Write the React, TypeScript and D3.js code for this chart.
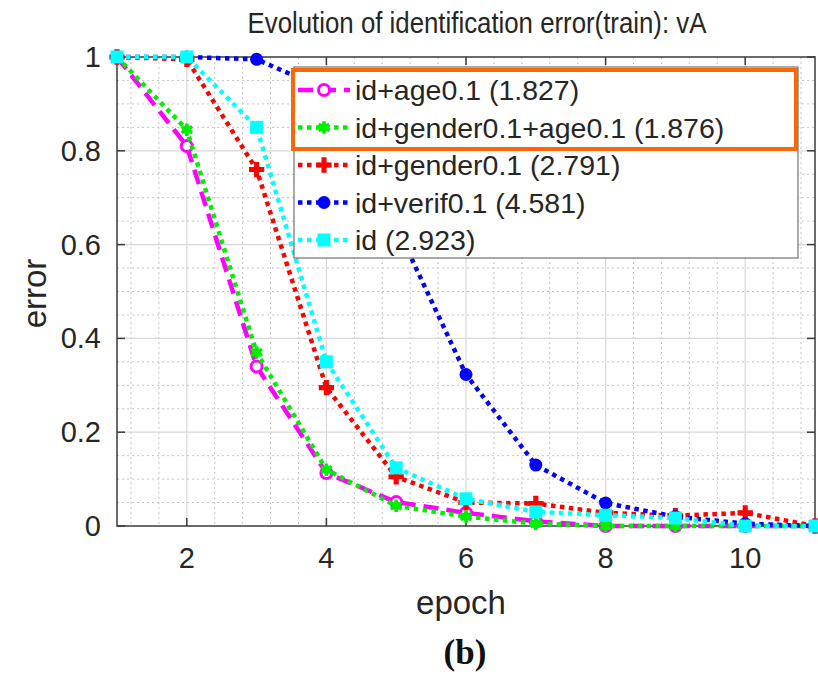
import React from "react";
import * as d3 from "d3";

const epochs = [1, 2, 3, 4, 5, 6, 7, 8, 9, 10, 11];
const idAge = [1, 0.81, 0.34, 0.113, 0.051, 0.028, 0.01, 0, 0, 0, 0];
const idGenderAge = [1, 0.845, 0.37, 0.12, 0.043, 0.02, 0.005, 0, 0, 0, 0];
const idGender = [1, 0.995, 0.76, 0.295, 0.105, 0.05, 0.048, 0.028, 0.022, 0.028, 0];
const idVerif = [1, 1, 0.995, 0.93, 0.64, 0.323, 0.13, 0.049, 0.02, 0.005, 0];
const idOnly = [1, 1, 0.85, 0.35, 0.124, 0.058, 0.03, 0.023, 0.017, 0, 0];

const seriesNames = [
  "id+age0.1 (1.827)",
  "id+gender0.1+age0.1 (1.876)",
  "id+gender0.1 (2.791)",
  "id+verif0.1 (4.581)",
  "id (2.923)",
];
const xTicks = [2, 4, 6, 8, 10];
const yTicks = [0, 0.2, 0.4, 0.6, 0.8, 1];

const title = "Evolution of identification error(train): vA";

type Series = {
  name: string;
  values: number[];
  color: string;
  dash: string;
  marker: string;
};

const series: Series[] = [
  { name: seriesNames[0], values: idAge, color: "#ff00ff", dash: "15,8", marker: "circleOpen" },
  { name: seriesNames[1], values: idGenderAge, color: "#00ee00", dash: "4.5,4.5", marker: "star" },
  { name: seriesNames[2], values: idGender, color: "#ff0000", dash: "4.5,4.5", marker: "plus" },
  { name: seriesNames[3], values: idVerif, color: "#0000ff", dash: "4.5,4.5", marker: "circle" },
  { name: seriesNames[4], values: idOnly, color: "#00ffff", dash: "4.5,4.5", marker: "square" },
];

const W = 818;
const H = 674;
const M = { left: 117, right: 815, top: 57, bottom: 526 };

const x = d3.scaleLinear().domain([1, 11]).range([M.left, M.right]);
const y = d3.scaleLinear().domain([0, 1]).range([M.bottom, M.top]);

const FONT = "'Liberation Sans', Arial, Helvetica, sans-serif";
const TXT = "#262626";

function Marker({ kind, color, cx, cy }: { kind: string; color: string; cx: number; cy: number }) {
  if (kind === "circleOpen")
    return <circle cx={cx} cy={cy} r={5.5} fill="white" stroke={color} strokeWidth={3} />;
  if (kind === "circle") return <circle cx={cx} cy={cy} r={6.5} fill={color} />;
  if (kind === "square")
    return <rect x={cx - 6.5} y={cy - 6.5} width={13} height={13} fill={color} />;
  if (kind === "plus") {
    const p = d3.symbol().type(d3.symbolCross).size(130)();
    return <path d={p || ""} transform={`translate(${cx},${cy})`} fill={color} />;
  }
  const p = d3.symbol().type(d3.symbolAsterisk).size(110)();
  return (
    <g transform={`translate(${cx},${cy})`}>
      <circle r={4.5} fill={color} />
      <path d={p || ""} fill="none" stroke={color} strokeWidth={3.5} />
    </g>
  );
}

export default function App() {
  const line = d3
    .line<number>()
    .x((_, i) => x(epochs[i]))
    .y((d) => y(d));

  const minorX = d3.range(1.2, 11, 0.4).filter((v) => Math.abs(v / 2 - Math.round(v / 2)) > 0.01);
  const minorY = d3.range(0.05, 1, 0.05).filter((v) => Math.abs(v / 0.2 - Math.round(v / 0.2)) > 0.01);

  const legX = 294;
  const legY = 67;
  const legW = 504;
  const legH = 191;
  const rowH = 37.5;

  return (
    <div style={{ position: "absolute", left: 0, top: 0 }}>
      <svg width={W} height={H} style={{ display: "block", background: "white" }}>
        <rect x={0} y={0} width={W} height={H} fill="white" />
        <g stroke="#c4c4c4" strokeWidth={1} strokeDasharray="2,3">
          {minorX.map((v) => (
            <line key={"mx" + v} x1={x(v)} x2={x(v)} y1={M.top} y2={M.bottom} />
          ))}
          {minorY.map((v) => (
            <line key={"my" + v} x1={M.left} x2={M.right} y1={y(v)} y2={y(v)} />
          ))}
        </g>
        <g stroke="#d8d8d8" strokeWidth={1.2}>
          {xTicks.map((v) => (
            <line key={"gx" + v} x1={x(v)} x2={x(v)} y1={M.top} y2={M.bottom} />
          ))}
          {yTicks.slice(1, -1).map((v) => (
            <line key={"gy" + v} x1={M.left} x2={M.right} y1={y(v)} y2={y(v)} />
          ))}
        </g>
        <rect
          x={M.left}
          y={M.top}
          width={M.right - M.left}
          height={M.bottom - M.top}
          fill="none"
          stroke="#3a3a3a"
          strokeWidth={1.5}
        />
        <g stroke="#3a3a3a" strokeWidth={1.5}>
          {xTicks.map((v) => (
            <g key={"tx" + v}>
              <line x1={x(v)} x2={x(v)} y1={M.bottom} y2={M.bottom - 8} />
              <line x1={x(v)} x2={x(v)} y1={M.top} y2={M.top + 8} />
            </g>
          ))}
          {yTicks.map((v) => (
            <g key={"ty" + v}>
              <line x1={M.left} x2={M.left + 8} y1={y(v)} y2={y(v)} />
              <line x1={M.right} x2={M.right - 8} y1={y(v)} y2={y(v)} />
            </g>
          ))}
        </g>
        <g fontFamily={FONT} fontSize={29} fill={TXT}>
          {xTicks.map((v) => (
            <text key={"lx" + v} x={x(v)} y={568} textAnchor="middle">
              {v}
            </text>
          ))}
          {yTicks.map((v) => (
            <text key={"ly" + v} x={101} y={y(v) + 10} textAnchor="end">
              {v === 0 || v === 1 ? String(v) : v.toFixed(1)}
            </text>
          ))}
        </g>
        <text x={461} y={614} textAnchor="middle" fontFamily={FONT} fontSize={33} fill={TXT}>
          epoch
        </text>
        <text
          transform={`translate(46,${(M.top + M.bottom) / 2 + 2}) rotate(-90)`}
          textAnchor="middle"
          fontFamily={FONT}
          fontSize={33}
          fill={TXT}
        >
          error
        </text>
        <text
          transform="translate(477,33) scale(0.89,1)"
          textAnchor="middle"
          fontFamily={FONT}
          fontSize={29}
          fill={TXT}
        >
          {title}
        </text>
        {series.map((s) => (
          <g key={s.name}>
            <path
              d={line(s.values) || ""}
              fill="none"
              stroke={s.color}
              strokeWidth={4.5}
              strokeDasharray={s.dash}
            />
            {s.values.map((v, i) => (
              <Marker key={i} kind={s.marker} color={s.color} cx={x(epochs[i])} cy={y(v)} />
            ))}
          </g>
        ))}
        <rect x={legX} y={legY} width={legW} height={legH} fill="white" stroke="#555" strokeWidth={1} />
        {series.map((s, i) => {
          const cy = legY + 23 + i * rowH;
          return (
            <g key={"leg" + s.name}>
              <line
                x1={legX + 4}
                x2={legX + 56}
                y1={cy}
                y2={cy}
                stroke={s.color}
                strokeWidth={4.5}
                strokeDasharray={s.dash}
              />
              <Marker kind={s.marker} color={s.color} cx={legX + 30} cy={cy} />
              <text x={legX + 61} y={cy + 10} fontFamily={FONT} fontSize={28.5} fill={TXT}>
                {s.name}
              </text>
            </g>
          );
        })}
        <rect x={293} y={70} width={503} height={79} fill="none" stroke="#ff6600" strokeWidth={4} />
        <text
          x={465}
          y={664}
          textAnchor="middle"
          fontFamily="'Liberation Serif', 'Times New Roman', serif"
          fontWeight="bold"
          fontSize={35}
          fill="#111"
        >
          (b)
        </text>
      </svg>
    </div>
  );
}
